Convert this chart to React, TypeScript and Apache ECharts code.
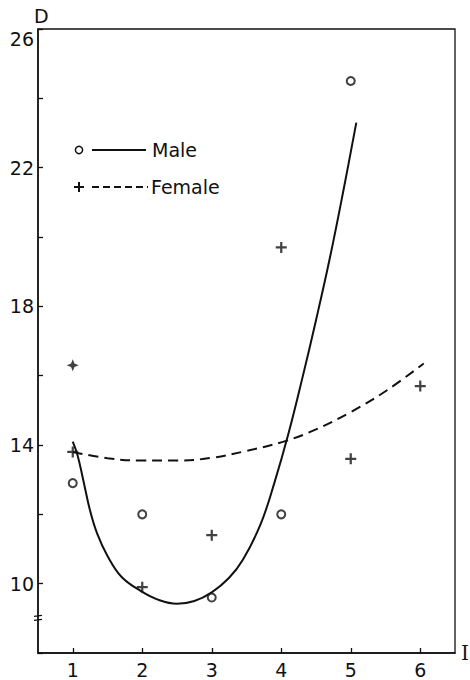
import React, { useEffect, useRef } from "react";
import * as echarts from "echarts";

// ---- data ----
const xTicks = [1, 2, 3, 4, 5, 6];
const yLabelValues = [10, 14, 18, 22, 26];

const malePoints: number[][] = [
  [1, 12.9],
  [2, 12.0],
  [3, 9.6],
  [4, 12.0],
  [5, 24.5],
];

const femalePoints: number[][] = [
  [1, 13.8],
  [2, 9.9],
  [3, 11.4],
  [4, 19.7],
  [5, 13.6],
  [6, 15.7],
];

const femaleBoldPoint: number[][] = [[1, 16.3]];

const maleCurve: number[][] = [
  [1.0, 14.1],
  [1.07, 13.7],
  [1.15, 13.0],
  [1.25, 12.1],
  [1.35, 11.45],
  [1.5, 10.8],
  [1.7, 10.2],
  [1.97, 9.8],
  [2.25, 9.52],
  [2.5, 9.42],
  [2.75, 9.5],
  [3.0, 9.75],
  [3.25, 10.17],
  [3.45, 10.7],
  [3.7, 11.7],
  [3.9, 12.9],
  [4.1, 14.3],
  [4.3, 15.9],
  [4.5, 17.6],
  [4.7, 19.4],
  [4.9, 21.4],
  [5.08, 23.3],
];

const femaleCurve: number[][] = [
  [1.0, 13.8],
  [1.5, 13.62],
  [2.0, 13.55],
  [2.5, 13.55],
  [3.0, 13.63],
  [3.5, 13.83],
  [4.07, 14.12],
  [4.5, 14.45],
  [5.0, 14.95],
  [5.5, 15.55],
  [6.05, 16.35],
];

const legendNames = ["Male", "Female"];
const axisBreakValue = 9.0;

const INK = "#111";
const FONT = "DejaVu Sans";
const PLUS = "path://M4,0H6V4H10V6H6V10H4V6H0V4H4Z";
const STAR = "path://M5,0L6.4,3.6L10,5L6.4,6.4L5,10L3.6,6.4L0,5L3.6,3.6Z";

export default function App() {
  const ref = useRef<HTMLDivElement>(null);

  useEffect(() => {
    document.body.style.margin = "0";
    if (!ref.current) return;
    const chart = echarts.init(ref.current, null, { renderer: "svg" });

    const option: any = {
      animation: false,
      backgroundColor: "#fff",
      grid: {
        left: 38,
        right: 15,
        top: 29,
        bottom: 27,
        show: true,
        borderColor: INK,
        borderWidth: 1.3,
        outerBoundsMode: "none",
      },
      xAxis: {
        type: "value",
        min: 0.5,
        max: 6.5,
        name: "I",
        nameLocation: "end",
        nameGap: 6,
        nameTextStyle: {
          fontFamily: "DejaVu Serif",
          fontSize: 20,
          color: INK,
          align: "left",
          verticalAlign: "middle",
        },
        axisLine: { show: true, lineStyle: { color: INK, width: 1.5 } },
        axisTick: {
          show: true,
          inside: true,
          length: 5,
          customValues: xTicks,
          lineStyle: { color: INK, width: 1.3 },
        },
        axisLabel: {
          customValues: xTicks,
          fontFamily: FONT,
          fontSize: 19,
          color: INK,
          margin: 7,
        },
        splitLine: { show: false },
      },
      yAxis: {
        type: "value",
        min: 8,
        max: 26,
        interval: 2,
        name: "D",
        nameLocation: "end",
        nameGap: 4,
        nameTextStyle: {
          fontFamily: FONT,
          fontSize: 19,
          color: INK,
          align: "left",
          padding: [0, 0, 0, -4],
        },
        axisLine: { show: true, lineStyle: { color: INK, width: 1.5 } },
        axisTick: {
          show: true,
          inside: true,
          length: 5,
          lineStyle: { color: INK, width: 1.3 },
        },
        axisLabel: {
          fontFamily: FONT,
          fontSize: 19,
          color: INK,
          margin: 4,
          formatter: (v: number) => (yLabelValues.indexOf(v) >= 0 ? String(v) : ""),
          verticalAlignMaxLabel: "top",
        },
        splitLine: { show: false },
      },
      series: [
        {
          name: "Male curve",
          type: "line",
          data: maleCurve,
          smooth: 0.4,
          showSymbol: false,
          symbol: "none",
          lineStyle: { color: INK, width: 2 },
          z: 2,
        },
        {
          name: "Female curve",
          type: "line",
          data: femaleCurve,
          smooth: 0.4,
          showSymbol: false,
          symbol: "none",
          lineStyle: { color: INK, width: 2, type: [10, 6] },
          z: 2,
        },
        {
          name: legendNames[0],
          type: "scatter",
          data: malePoints.map((p, i) => ({
            value: p,
            itemStyle: { borderWidth: i === malePoints.length - 1 ? 2.6 : 1.5 },
          })),
          symbol: "emptyCircle",
          symbolSize: 8,
          itemStyle: { color: INK, borderColor: INK },
          z: 3,
        },
        {
          name: legendNames[1],
          type: "scatter",
          data: femalePoints,
          symbol: PLUS,
          symbolSize: 11,
          itemStyle: { color: INK },
          z: 3,
        },
        {
          name: legendNames[1] + " (bold)",
          type: "scatter",
          data: femaleBoldPoint,
          symbol: STAR,
          symbolSize: 12,
          itemStyle: { color: INK },
          z: 3,
        },
      ],
    };
    chart.setOption(option);

    const br = chart.convertToPixel({ gridIndex: 0 }, [0.5, axisBreakValue]) as number[];
    const bx = br[0];
    const by = br[1];

    chart.setOption({
      graphic: [
        // axis break marks
        {
          type: "line",
          shape: { x1: bx - 4, y1: by - 2, x2: bx + 4, y2: by - 3 },
          style: { stroke: INK, lineWidth: 1.4 },
        },
        {
          type: "line",
          shape: { x1: bx - 4, y1: by + 2, x2: bx + 4, y2: by + 1 },
          style: { stroke: INK, lineWidth: 1.4 },
        },
        // legend: Male
        {
          type: "circle",
          shape: { cx: 79, cy: 150, r: 3.6 },
          style: { fill: "#fff", stroke: INK, lineWidth: 1.5 },
        },
        {
          type: "line",
          shape: { x1: 92, y1: 150, x2: 146, y2: 150 },
          style: { stroke: INK, lineWidth: 2 },
        },
        {
          type: "text",
          x: 152,
          y: 150,
          style: {
            text: legendNames[0],
            font: `19px '${FONT}'`,
            fill: INK,
            verticalAlign: "middle",
            align: "left",
          },
        },
        // legend: Female
        {
          type: "line",
          shape: { x1: 74, y1: 187, x2: 84, y2: 187 },
          style: { stroke: INK, lineWidth: 2 },
        },
        {
          type: "line",
          shape: { x1: 79, y1: 182, x2: 79, y2: 192 },
          style: { stroke: INK, lineWidth: 2 },
        },
        {
          type: "line",
          shape: { x1: 92, y1: 187, x2: 148, y2: 187 },
          style: { stroke: INK, lineWidth: 2, lineDash: [7, 4] },
        },
        {
          type: "text",
          x: 151,
          y: 187,
          style: {
            text: legendNames[1],
            font: `19px '${FONT}'`,
            fill: INK,
            verticalAlign: "middle",
            align: "left",
          },
        },
      ],
    });

    return () => chart.dispose();
  }, []);

  return <div ref={ref} style={{ width: 470, height: 680 }} />;
}
